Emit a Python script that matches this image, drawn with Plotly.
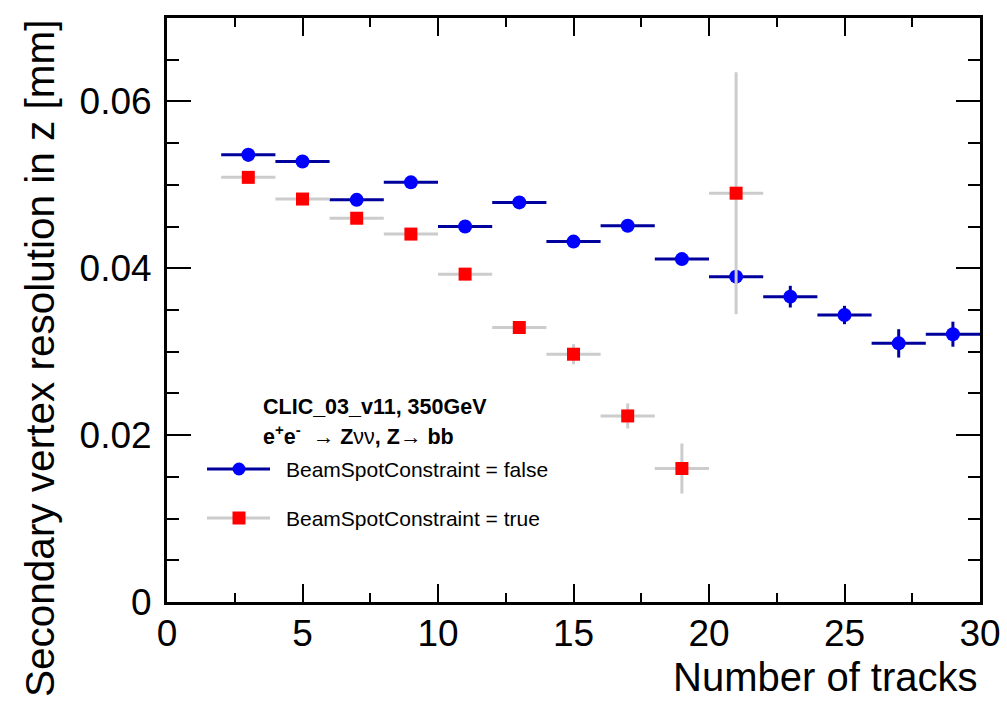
import plotly.graph_objects as go

# ---- data ----
x_false = [3, 5, 7, 9, 11, 13, 15, 17, 19, 21, 23, 25, 27, 29]
y_false = [0.0536, 0.0528, 0.0482, 0.0503, 0.0450, 0.0479, 0.0432, 0.0451, 0.0411, 0.0390, 0.0366, 0.0344, 0.0310, 0.0321]
ey_false = [0.0008, 0.0004, 0.0004, 0.0004, 0.0004, 0.0004, 0.0005, 0.0005, 0.0006, 0.0008, 0.0013, 0.0011, 0.0017, 0.0015]

x_true = [3, 5, 7, 9, 11, 13, 15, 17, 19, 21]
y_true = [0.0509, 0.0483, 0.0460, 0.0441, 0.0393, 0.0329, 0.0297, 0.0223, 0.0160, 0.0490]
ey_true = [0.0004, 0.0004, 0.0005, 0.0005, 0.0006, 0.0006, 0.0012, 0.0015, 0.0030, 0.0145]

bin_half_width = [1.0]

label_false = "BeamSpotConstraint = false"
label_true = "BeamSpotConstraint = true"
x_title = "Number of tracks"
y_title = "Secondary vertex resolution in z [mm]"

NAVY = "#00009c"
BLUE = "#0000ff"
GRAY = "#cccccc"
RED = "#ff0000"
FONT = "Liberation Sans, Arial, Helvetica, sans-serif"

fig = go.Figure()
fig.add_trace(go.Scatter(
    x=x_false, y=y_false, mode="markers", name=label_false,
    marker=dict(symbol="circle", size=14, color=BLUE),
    error_x=dict(type="constant", value=bin_half_width[0], color=NAVY, thickness=3, width=0),
    error_y=dict(type="data", array=ey_false, color=NAVY, thickness=3, width=0),
    showlegend=False,
))
fig.add_trace(go.Scatter(
    x=x_true, y=y_true, mode="markers", name=label_true,
    marker=dict(symbol="square", size=13, color=RED),
    error_x=dict(type="constant", value=bin_half_width[0], color=GRAY, thickness=3, width=0),
    error_y=dict(type="data", array=ey_true, color=GRAY, thickness=3, width=0),
    showlegend=False,
))

axis_common = dict(
    showgrid=False, zeroline=False, showline=True, linecolor="black", linewidth=3,
    mirror="ticks", ticks="inside", tickcolor="black", tickwidth=2, automargin=False,
    tickfont=dict(family=FONT, size=37, color="black"),
)
fig.update_xaxes(range=[0, 30], dtick=5, tick0=0, ticklen=18, ticklabelstandoff=-3,
                 minor=dict(dtick=2.5, ticklen=9, ticks="inside", tickcolor="black", tickwidth=2),
                 **axis_common)
fig.update_yaxes(range=[0, 0.07], dtick=0.02, tick0=0, ticklen=24, tickformat="~g", ticklabelstandoff=5,
                 minor=dict(dtick=0.005, ticklen=12, ticks="inside", tickcolor="black", tickwidth=2),
                 **axis_common)

W, H = 1007, 701
L, R, T, B = 167, 27, 18, 99
pw, ph = W - L - R, H - T - B

def px(xp):
    return (xp - L) / pw

def py(yp):
    return (H - B - yp) / ph

shapes = []
annotations = []
# legend samples
for yy, lc, mc, sym in [(469, NAVY, BLUE, "circle"), (518, GRAY, RED, "rect")]:
    shapes.append(dict(type="line", xref="paper", yref="paper", x0=px(207), x1=px(270),
                       y0=py(yy), y1=py(yy), line=dict(color=lc, width=3)))
    shapes.append(dict(type=sym, xref="paper", yref="paper", xsizemode="pixel", ysizemode="pixel",
                       xanchor=px(239), yanchor=py(yy), x0=-6.5, x1=6.5, y0=-6.5, y1=6.5,
                       fillcolor=mc, line=dict(color=mc, width=0)))
annotations.append(dict(text=label_false, xref="paper", yref="paper", x=px(284), y=py(469),
                        xanchor="left", yanchor="middle", showarrow=False,
                        font=dict(family=FONT, size=21, color="black")))
annotations.append(dict(text=label_true, xref="paper", yref="paper", x=px(284), y=py(518),
                        xanchor="left", yanchor="middle", showarrow=False,
                        font=dict(family=FONT, size=21, color="black")))
annotations.append(dict(text="<b>CLIC_03_v11, 350GeV</b>", xref="paper", yref="paper", x=px(261), y=py(407),
                        xanchor="left", yanchor="middle", showarrow=False,
                        font=dict(family=FONT, size=21.5, color="black")))
annotations.append(dict(text="<b>e<sup>+</sup>e<sup>-</sup></b>  → <b>Z</b>νν<b>, Z</b>→ <b>bb</b>", xref="paper", yref="paper",
                        x=px(261), y=py(435), xanchor="left", yanchor="middle", showarrow=False,
                        font=dict(family=FONT, size=21.5, color="black")))
# axis titles
annotations.append(dict(text=x_title, xref="paper", yref="paper", x=px(980), y=py(677),
                        xanchor="right", yanchor="middle", showarrow=False,
                        font=dict(family=FONT, size=40, color="black")))
annotations.append(dict(text=y_title, xref="paper", yref="paper", x=px(40), y=py(358),
                        xanchor="center", yanchor="middle", textangle=-90, showarrow=False,
                        font=dict(family=FONT, size=40.5, color="black")))

fig.update_layout(
    width=W, height=H, margin=dict(l=L, r=R, t=T, b=B, pad=0, autoexpand=False),
    plot_bgcolor="white", paper_bgcolor="white",
    shapes=shapes, annotations=annotations, showlegend=False,
)

fig.write_html("out.html")
